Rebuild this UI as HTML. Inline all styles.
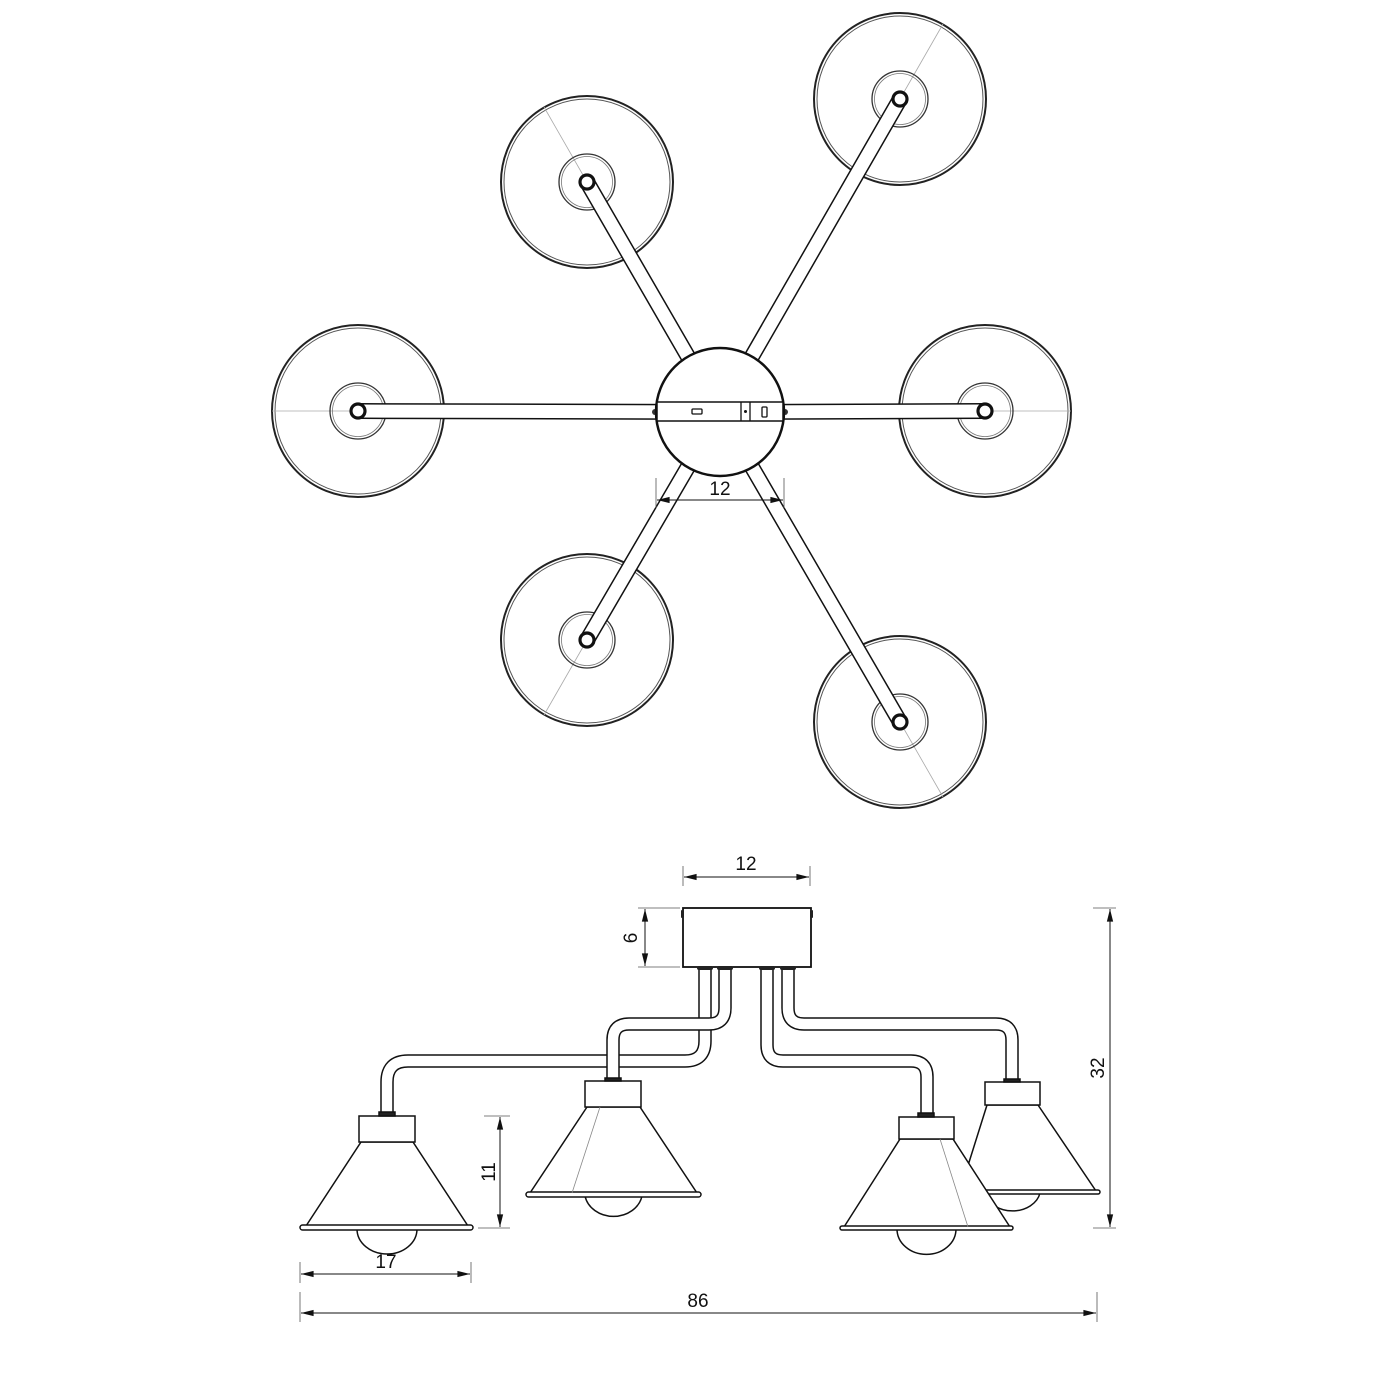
<!DOCTYPE html>
<html><head><meta charset="utf-8"><style>
html,body{margin:0;padding:0;background:#fff;width:1400px;height:1400px;overflow:hidden}
svg{display:block}
text{font-family:"Liberation Sans",sans-serif;font-size:19px;fill:#111}
</style></head><body>
<svg width="1400" height="1400" viewBox="0 0 1400 1400" xmlns="http://www.w3.org/2000/svg">
<defs>
<marker id="a" viewBox="0 0 14 10" refX="14" refY="5" markerWidth="15" markerHeight="9" orient="auto-start-reverse" markerUnits="userSpaceOnUse"><path d="M0,1.5 L14,5 L0,8.5 Z" fill="#111"/></marker>
<g id="disc">
<circle r="86" fill="#fff" stroke="#222" stroke-width="2"/>
<circle r="83" fill="none" stroke="#555" stroke-width="1"/>
</g>
<g id="inner">
<circle r="28" fill="none" stroke="#333" stroke-width="1.3"/>
<circle r="25.5" fill="none" stroke="#777" stroke-width="0.8"/>
</g>
<g id="knob">
<circle r="7" fill="#fff" stroke="#111" stroke-width="3.2"/>
</g>
</defs>

<use href="#disc" x="358" y="411"/>
<use href="#disc" x="985" y="411"/>
<use href="#disc" x="587" y="182"/>
<use href="#disc" x="900" y="99"/>
<use href="#disc" x="587" y="640"/>
<use href="#disc" x="900" y="722"/>
<g stroke="#aaa" stroke-width="0.8">
<line x1="272" y1="411" x2="358" y2="411"/>
<line x1="985" y1="411" x2="1071" y2="411"/>
<line x1="544" y1="107" x2="587" y2="182"/>
<line x1="943" y1="24" x2="900" y2="99"/>
<line x1="544" y1="715" x2="587" y2="640"/>
<line x1="943" y1="797" x2="900" y2="722"/>
</g>
<use href="#inner" x="358" y="411"/>
<use href="#inner" x="985" y="411"/>
<use href="#inner" x="587" y="182"/>
<use href="#inner" x="900" y="99"/>
<use href="#inner" x="587" y="640"/>
<use href="#inner" x="900" y="722"/>

<g stroke-linecap="butt">
<g stroke="#111" stroke-width="16">
<line x1="720" y1="412" x2="358" y2="411"/>
<line x1="720" y1="412" x2="985" y2="411"/>
<line x1="720" y1="412" x2="587" y2="182"/>
<line x1="720" y1="412" x2="900" y2="99"/>
<line x1="720" y1="412" x2="587" y2="640"/>
<line x1="720" y1="412" x2="900" y2="722"/>
</g>
<g stroke="#fff" stroke-width="13">
<line x1="720" y1="412" x2="358" y2="411"/>
<line x1="720" y1="412" x2="985" y2="411"/>
<line x1="720" y1="412" x2="587" y2="182"/>
<line x1="720" y1="412" x2="900" y2="99"/>
<line x1="720" y1="412" x2="587" y2="640"/>
<line x1="720" y1="412" x2="900" y2="722"/>
</g>
</g>
<use href="#knob" x="358" y="411"/>
<use href="#knob" x="985" y="411"/>
<use href="#knob" x="587" y="182"/>
<use href="#knob" x="900" y="99"/>
<use href="#knob" x="587" y="640"/>
<use href="#knob" x="900" y="722"/>

<circle cx="655" cy="412" r="3" fill="#333"/>
<circle cx="785" cy="412" r="3" fill="#333"/>
<circle cx="720" cy="412" r="64" fill="#fff" stroke="#111" stroke-width="2.5"/>
<rect x="657" y="402" width="126" height="19" fill="#fff" stroke="#111" stroke-width="1.5"/>
<line x1="741" y1="402" x2="741" y2="421" stroke="#111" stroke-width="1.3"/>
<line x1="750" y1="402" x2="750" y2="421" stroke="#111" stroke-width="1.3"/>
<circle cx="745.5" cy="411.5" r="1.5" fill="#111"/>
<rect x="692" y="409" width="10" height="5" rx="1" fill="none" stroke="#111" stroke-width="1.3"/>
<rect x="762" y="407" width="5" height="10" rx="1" fill="none" stroke="#111" stroke-width="1.3"/>

<g stroke="#555" stroke-width="0.8">
<line x1="656" y1="478" x2="656" y2="508"/>
<line x1="784" y1="478" x2="784" y2="508"/>
</g>
<line x1="657" y1="500" x2="783" y2="500" stroke="#111" stroke-width="1" marker-start="url(#a)" marker-end="url(#a)"/>
<text x="720" y="495" text-anchor="middle" font-size="20">12</text>

<g fill="none" stroke-linejoin="round">
<path d="M705 968 V1041 Q705 1061 685 1061 H408 Q387 1061 387 1082 V1114" stroke="#111" stroke-width="13.5"/>
<path d="M705 968 V1041 Q705 1061 685 1061 H408 Q387 1061 387 1082 V1114" stroke="#fff" stroke-width="10.5"/>
<path d="M725 968 V1008 Q725 1024 709 1024 H629 Q613 1024 613 1040 V1081" stroke="#111" stroke-width="13.5"/>
<path d="M725 968 V1008 Q725 1024 709 1024 H629 Q613 1024 613 1040 V1081" stroke="#fff" stroke-width="10.5"/>
<path d="M767 968 V1045 Q767 1061 783 1061 H911 Q927 1061 927 1077 V1114" stroke="#111" stroke-width="13.5"/>
<path d="M767 968 V1045 Q767 1061 783 1061 H911 Q927 1061 927 1077 V1114" stroke="#fff" stroke-width="10.5"/>
<path d="M788 968 V1008 Q788 1024 804 1024 H996 Q1012 1024 1012 1040 V1080" stroke="#111" stroke-width="13.5"/>
<path d="M788 968 V1008 Q788 1024 804 1024 H996 Q1012 1024 1012 1040 V1080" stroke="#fff" stroke-width="10.5"/>
</g>
<rect x="683" y="908" width="128" height="59" fill="#fff" stroke="#111" stroke-width="1.8"/>
<g fill="#222">
<rect x="697" y="966" width="16" height="4" rx="2"/>
<rect x="717" y="966" width="16" height="4" rx="2"/>
<rect x="759" y="966" width="16" height="4" rx="2"/>
<rect x="780" y="966" width="16" height="4" rx="2"/>
<rect x="681" y="910" width="3" height="8" rx="1"/>
<rect x="810" y="910" width="3" height="8" rx="1"/>
</g>

<g stroke="#111" stroke-width="1.5" fill="#fff">
<path d="M985 1193 A28 22 0 0 0 1040 1193" />
<path d="M987 1105 L960 1191 H1096 L1038 1105 Z"/>
<rect x="985" y="1082" width="55" height="23"/>
<rect x="958" y="1190" width="142" height="4" rx="2"/>
<rect x="1004" y="1079" width="16" height="3" fill="#222"/>
</g>
<g stroke="#111" stroke-width="1.5" fill="#fff">
<path d="M357 1229 A30 25 0 0 0 417 1229"/>
<path d="M361 1142 L306 1226 H468 L413 1142 Z"/>
<rect x="359" y="1116" width="56" height="26"/>
<rect x="300" y="1225" width="173" height="5" rx="2.5"/>
<rect x="379" y="1112" width="16" height="4" fill="#222"/>
</g>
<g stroke="#111" stroke-width="1.5" fill="#fff">
<path d="M585 1196 A29 25 0 0 0 642 1196"/>
<path d="M587 1107 L530 1193 H697 L640 1107 Z"/>
<rect x="585" y="1081" width="56" height="26"/>
<rect x="526" y="1192" width="175" height="5" rx="2.5"/>
<rect x="605" y="1078" width="16" height="3" fill="#222"/>
<line x1="600" y1="1107" x2="572" y2="1193" stroke="#888" stroke-width="0.8"/>
</g>
<g stroke="#111" stroke-width="1.5" fill="#fff">
<path d="M897 1229 A29 25 0 0 0 956 1229"/>
<path d="M900 1139 L844 1227 H1010 L953 1139 Z"/>
<rect x="899" y="1117" width="55" height="22"/>
<rect x="840" y="1226" width="173" height="4" rx="2"/>
<rect x="918" y="1113" width="16" height="4" fill="#222"/>
<line x1="940" y1="1139" x2="968" y2="1227" stroke="#888" stroke-width="0.8"/>
</g>

<g stroke="#555" stroke-width="0.8">
<line x1="683" y1="866" x2="683" y2="886"/>
<line x1="810" y1="866" x2="810" y2="886"/>
<line x1="638" y1="908" x2="680" y2="908"/>
<line x1="638" y1="967" x2="680" y2="967"/>
<line x1="1093" y1="908" x2="1116" y2="908"/>
<line x1="1093" y1="1228" x2="1116" y2="1228"/>
<line x1="484" y1="1116" x2="510" y2="1116"/>
<line x1="478" y1="1228" x2="510" y2="1228"/>
<line x1="300" y1="1262" x2="300" y2="1283"/>
<line x1="471" y1="1262" x2="471" y2="1283"/>
<line x1="300" y1="1292" x2="300" y2="1322"/>
<line x1="1097" y1="1292" x2="1097" y2="1322"/>
</g>
<g stroke="#111" stroke-width="1" marker-start="url(#a)" marker-end="url(#a)">
<line x1="684" y1="877" x2="809" y2="877"/>
<line x1="645" y1="909" x2="645" y2="966"/>
<line x1="1110" y1="909" x2="1110" y2="1227"/>
<line x1="500" y1="1117" x2="500" y2="1227"/>
<line x1="301" y1="1274" x2="470" y2="1274"/>
<line x1="301" y1="1313" x2="1096" y2="1313"/>
</g>
<text x="746" y="870" text-anchor="middle" font-size="20">12</text>
<text x="386" y="1268" text-anchor="middle" font-size="20">17</text>
<text x="698" y="1307" text-anchor="middle" font-size="20">86</text>
<text transform="translate(637,938) rotate(-90)" text-anchor="middle" font-size="20">6</text>
<text transform="translate(1104,1068) rotate(-90)" text-anchor="middle" font-size="20">32</text>
<text transform="translate(495,1172) rotate(-90)" text-anchor="middle" font-size="20">11</text>
</svg>
</body></html>
